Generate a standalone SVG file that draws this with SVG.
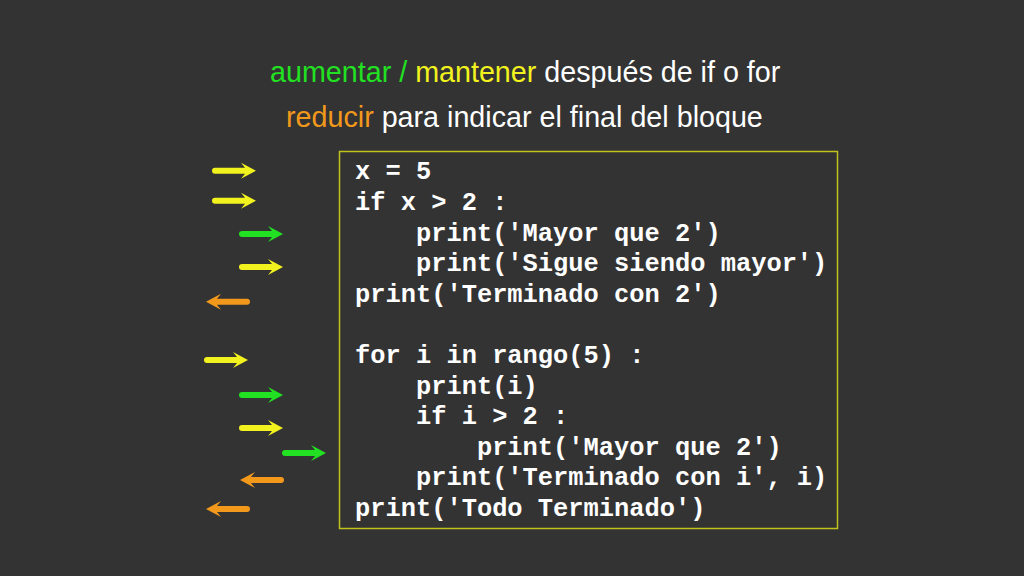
<svg xmlns="http://www.w3.org/2000/svg" xmlns:xlink="http://www.w3.org/1999/xlink" width="1024" height="576" viewBox="0 0 1024 576">
  <style>
    .title { font-family: "Liberation Sans", Arial, sans-serif; font-size: 28.7px; fill: #ffffff; }
    .g { fill: #22e022; }
    .y { fill: #f2f21e; }
    .o { fill: #f2991c; }
    .code { font-family: "Courier New", "Liberation Mono", monospace; font-weight: bold; font-size: 25.4px; fill: #ffffff; white-space: pre; }
    .box { fill: none; stroke: #c2c21c; stroke-width: 1.5; }
  </style>
  <defs>
    <path id="arr" d="M0,0 L-15,-8 L-11,-3 L-41,-3 A3,3 0 0 0 -41,3 L-11,3 L-15,8 Z"/>
  </defs>
  <rect width="1024" height="576" fill="#333333"/>

  <g id="title">
    <text class="title" x="270" y="82"><tspan class="g">aumentar /</tspan> <tspan class="y">mantener</tspan> después de if o for</text>
    <text class="title" x="286" y="127"><tspan class="o">reducir</tspan> para indicar el final del bloque</text>
  </g>

  <g id="codebox">
    <rect class="box" x="339.5" y="151.5" width="498" height="377"/>
    <text class="code" x="355" y="179.4">x = 5</text>
    <text class="code" x="355" y="210">if x &gt; 2 :</text>
    <text class="code" x="355" y="240.6">    print('Mayor que 2')</text>
    <text class="code" x="355" y="271.2">    print('Sigue siendo mayor')</text>
    <text class="code" x="355" y="301.8">print('Terminado con 2')</text>
    <text class="code" x="355" y="363">for i in rango(5) :</text>
    <text class="code" x="355" y="393.6">    print(i)</text>
    <text class="code" x="355" y="424.2">    if i &gt; 2 :</text>
    <text class="code" x="355" y="454.8">        print('Mayor que 2')</text>
    <text class="code" x="355" y="485.4">    print('Terminado con i', i)</text>
    <text class="code" x="355" y="516">print('Todo Terminado')</text>
  </g>

  <g id="arrows">
    <use xlink:href="#arr" class="y" transform="translate(256,170.7)"/>
    <use xlink:href="#arr" class="y" transform="translate(256,200.7)"/>
    <use xlink:href="#arr" class="g" transform="translate(283,234)"/>
    <use xlink:href="#arr" class="y" transform="translate(283,267)"/>
    <use xlink:href="#arr" class="o" transform="translate(206,301.7) scale(-1,1)"/>
    <use xlink:href="#arr" class="y" transform="translate(248,360)"/>
    <use xlink:href="#arr" class="g" transform="translate(283,395)"/>
    <use xlink:href="#arr" class="y" transform="translate(283,428)"/>
    <use xlink:href="#arr" class="g" transform="translate(326,453)"/>
    <use xlink:href="#arr" class="o" transform="translate(240,480) scale(-1,1)"/>
    <use xlink:href="#arr" class="o" transform="translate(206,509) scale(-1,1)"/>
  </g>
</svg>
